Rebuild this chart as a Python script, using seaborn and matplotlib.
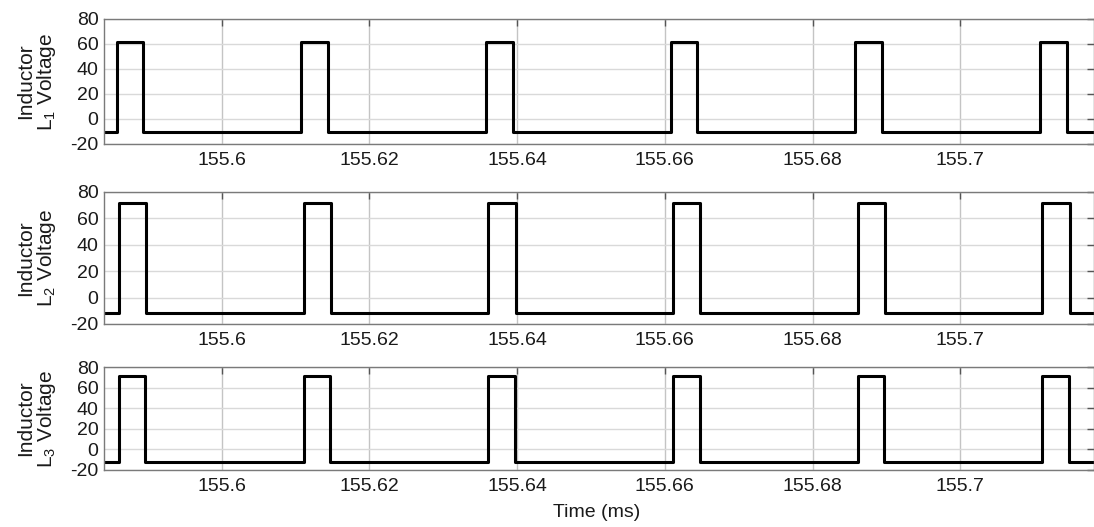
import matplotlib
matplotlib.use("Agg")
import matplotlib.pyplot as plt
import numpy as np
import pandas as pd
import seaborn as sns

# time window (ms)
t_start = 155.5841
t_end = 155.7181

# pulse edges (ms)
rise_L1 = [155.5858, 155.6108, 155.6358, 155.6608, 155.6858, 155.7108]
fall_L1 = [155.5894, 155.6144, 155.6394, 155.6644, 155.6894, 155.7144]
rise_L2 = [155.5861, 155.6111, 155.6361, 155.6611, 155.6861, 155.7111]
fall_L2 = [155.5898, 155.6148, 155.6398, 155.6648, 155.6898, 155.7148]
rise_L3 = [155.5861, 155.6111, 155.6361, 155.6611, 155.6861, 155.7111]
fall_L3 = [155.5897, 155.6147, 155.6397, 155.6647, 155.6897, 155.7147]

high_L1, low_L1 = 61.2, -10.7
high_L2, low_L2 = 71.5, -11.8
high_L3, low_L3 = 71.3, -12.2

panels = [
    ("1", rise_L1, fall_L1, high_L1, low_L1),
    ("2", rise_L2, fall_L2, high_L2, low_L2),
    ("3", rise_L3, fall_L3, high_L3, low_L3),
]

x_ticks = [155.6, 155.62, 155.64, 155.66, 155.68, 155.7]
x_ticklabels = ["155.6", "155.62", "155.64", "155.66", "155.68", "155.7"]
y_ticks = [-20, 0, 20, 40, 60, 80]


def square_wave(rises, falls, high, low):
    t = [t_start]
    v = [low]
    for r, f in zip(rises, falls):
        t += [r, r, f, f]
        v += [low, high, high, low]
    t.append(t_end)
    v.append(low)
    return pd.DataFrame({"t": t, "v": v})


sns.set_style("white")
plt.rcParams["font.family"] = ["Liberation Sans", "DejaVu Sans"]
plt.rcParams["mathtext.default"] = "regular"
plt.rcParams["axes.unicode_minus"] = False

fig = plt.figure(figsize=(10.94, 5.27), dpi=100)

# [left, bottom, width, height] in figure fractions
boxes = [
    [0.0951, 0.7268, 0.9050, 0.2372],
    [0.0951, 0.3852, 0.9050, 0.2505],
    [0.0951, 0.1082, 0.9050, 0.1954],
]

for (idx, rises, falls, high, low), box in zip(panels, boxes):
    ax = fig.add_axes(box)
    df = square_wave(rises, falls, high, low)
    sns.lineplot(data=df, x="t", y="v", ax=ax, color="black", linewidth=2.2,
                 sort=False, estimator=None)
    ax.set_xlim(t_start, t_end)
    ax.set_ylim(-20, 80)
    ax.set_xticks(x_ticks)
    ax.set_xticklabels(x_ticklabels)
    ax.set_yticks(y_ticks)
    ax.grid(True, axis="y", color="#d9d9d9", linewidth=1.0)
    ax.grid(True, axis="x", color="#c4c4c4", linewidth=1.0)
    for s in ax.spines.values():
        s.set_color("#7a7a7a")
        s.set_linewidth(1.0)
    ax.tick_params(direction="in", length=5, width=1, color="#555555",
                   labelsize=14, labelcolor="#1a1a1a", top=True, right=True)
    ax.tick_params(axis="x", pad=6)
    ax.tick_params(axis="y", pad=4)
    ax.set_xlabel("")
    ax.set_ylabel("Inductor\nL$_{%s}$ Voltage" % idx, fontsize=15,
                  color="#1a1a1a", linespacing=1.05)
    ax.yaxis.set_label_coords(-0.046, 0.5)

fig.text(0.5457, 0.027, "Time (ms)", ha="center", va="center", fontsize=14,
         color="#1a1a1a")

fig.savefig("out.png", dpi=100)
